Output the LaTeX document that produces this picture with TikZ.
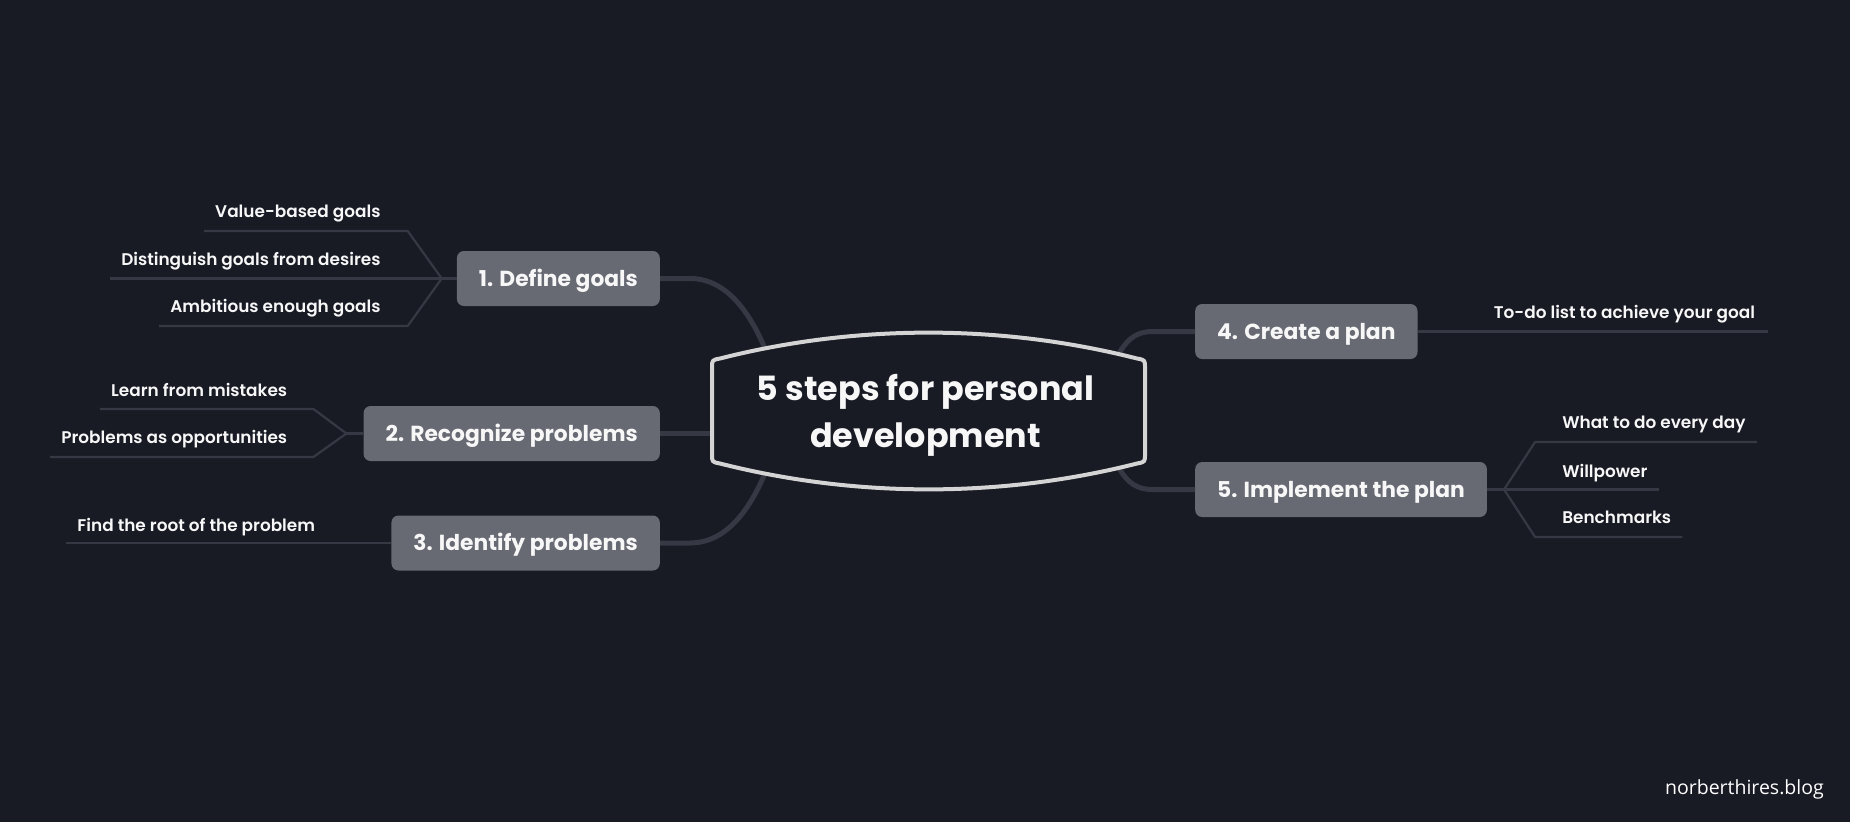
\documentclass[tikz,border=0pt]{standalone}
\usepackage{fontspec}
\setmainfont{Poppins}
\newfontfamily\subfont{Poppins SemiBold}
\newfontfamily\stepfont{Poppins Bold}
\newfontfamily\markfont{Open Sans}
\usetikzlibrary{calc}
\definecolor{bg}{HTML}{181A24}
\definecolor{boxgray}{HTML}{676973}
\definecolor{linegray}{HTML}{363843}
\definecolor{rimgray}{HTML}{D4D4D4}
\definecolor{txt}{HTML}{F7F7F7}
\begin{document}
\begin{tikzpicture}[x=1pt,y=-1pt,
  stepbox/.style={fill=boxgray, rounded corners=7pt, text=txt,
    font=\stepfont\fontsize{21.8}{25}\selectfont, minimum height=55pt,
    inner xsep=22pt, inner ysep=0pt, text height=15.2pt, text depth=0pt},
  subl/.style={text=txt, font=\subfont\fontsize{16.9}{20}\selectfont, inner sep=0pt},
  branch/.style={draw=linegray, line width=5pt},
  twig/.style={draw=linegray, line width=2.2pt, line join=round}]
\fill[bg] (0,0) rectangle (1850,822);
\useasboundingbox (0,0) rectangle (1850,822);
\coordinate (hub) at (928.5,411);

% step boxes
\node[stepbox, anchor=east] (s1) at (660,278.5) {1. Define goals};
\node[stepbox, anchor=east] (s2) at (660,433.5) {2. Recognize problems};
\node[stepbox, anchor=east] (s3) at (660,543) {3. Identify problems};
\node[stepbox, anchor=west] (s4) at (1195,331.5) {4. Create a plan};
\node[stepbox, anchor=west] (s5) at (1195,489.5) {5. Implement the plan};

% group 1
\coordinate (j1) at ($(s1.west)+(-15,0)$);
\coordinate (k1a) at ($(j1)+(-34,-47.5)$);
\coordinate (k1c) at ($(j1)+(-34,47.5)$);
\node[subl, anchor=base east] (a1) at ($(k1a)+(-27,-14)$) {Value-based goals};
\node[subl, anchor=base east] (a2) at ($(j1)+(-61,-13.5)$) {Distinguish goals from desires};
\node[subl, anchor=base east] (a3) at ($(k1c)+(-27,-14)$) {Ambitious enough goals};
\draw[twig] ($(a1.base west)+(-11,14)$) -- (k1a) -- (j1);
\draw[twig] ($(a2.base west)+(-11,13.5)$) -- (j1);
\draw[twig] ($(a3.base west)+(-11,14)$) -- (k1c) -- (j1);
\draw[twig] (j1) -- (s1.west);

% group 2
\coordinate (j2) at ($(s2.west)+(-17,0)$);
\coordinate (k2a) at ($(j2)+(-33,-24.5)$);
\coordinate (k2b) at ($(j2)+(-33,23.5)$);
\node[subl, anchor=base east] (b1) at ($(k2a)+(-26,-13)$) {Learn from mistakes};
\node[subl, anchor=base east] (b2) at ($(k2b)+(-26,-14)$) {Problems as opportunities};
\draw[twig] ($(b1.base west)+(-11,13)$) -- (k2a) -- (j2);
\draw[twig] ($(b2.base west)+(-11,14)$) -- (k2b) -- (j2);
\draw[twig] (j2) -- (s2.west);

% group 3
\node[subl, anchor=base east] (c1) at ($(s3.west)+(-76,-12)$) {Find the root of the problem};
\draw[twig] ($(c1.base west)+(-11,12)$) -- (s3.west);

% group 4
\node[subl, anchor=base west] (d1) at ($(s4.east)+(76,-13.5)$) {To-do list to achieve your goal};
\draw[twig] (s4.east) -- ($(d1.base east)+(13,13.5)$);

% group 5
\coordinate (j5) at ($(s5.east)+(17,0)$);
\coordinate (k5a) at ($(j5)+(31,-47.5)$);
\coordinate (k5c) at ($(j5)+(31,47.5)$);
\node[subl, anchor=base west] (e1) at ($(k5a)+(27,-14)$) {What to do every day};
\node[subl, anchor=base west] (e2) at ($(j5)+(58,-12.5)$) {Willpower};
\node[subl, anchor=base west] (e3) at ($(k5c)+(27,-14)$) {Benchmarks};
\draw[twig] (j5) -- (k5a) -- ($(e1.base east)+(11,14)$);
\draw[twig] (j5) -- ($(e2.base east)+(11,12.5)$);
\draw[twig] (j5) -- (k5c) -- ($(e3.base east)+(11,14)$);
\draw[twig] (s5.east) -- (j5);

% main branches
\coordinate (hl) at ($(hub)+(-143.5,0)$);
\coordinate (hr) at ($(hub)+(171.5,0)$);
\draw[branch] (s1.east) -- ++(30,0) .. controls +(45,0) and +(-20,-81) .. (hl);
\draw[branch] (s3.east) -- ++(30,0) .. controls +(45,0) and +(-20,81) .. (hl);
\draw[branch] (s2.east) -- (s2.east -| hub);
\draw[branch] (s4.west) -- ++(-42,0) .. controls +(-23,0) and +(15,-66) .. (hr);
\draw[branch] (s5.west) -- ++(-42,0) .. controls +(-23,0) and +(15,66) .. (hr);

% central shape
\begin{scope}[shift={(hub)}]
\filldraw[fill=bg, draw=rimgray, line width=4pt, line join=round]
  (-208.5,-52.5) .. controls (-72.5,-87) and (72.5,-87) .. (208.5,-52.5)
  .. controls (216.5,-51) .. (216.5,-43) -- (216.5,43)
  .. controls (216.5,51) .. (208.5,52.5)
  .. controls (72.5,87) and (-72.5,87) .. (-208.5,52.5)
  .. controls (-216.5,51) .. (-216.5,43) -- (-216.5,-43)
  .. controls (-216.5,-51) .. (-208.5,-52.5) -- cycle;
\end{scope}
\node[text=txt, align=center, inner sep=0pt,
  font=\stepfont\fontsize{33.4}{47}\selectfont] (ttl) at ($(hub)+(-3,4)$)
  {5 steps for personal\\development};

% watermark
\node[font=\markfont\fontsize{19.5}{22}\selectfont, text=white, anchor=base east, inner sep=0pt] (wm) at (1824,794) {norberthires.blog};
\end{tikzpicture}
\end{document}
